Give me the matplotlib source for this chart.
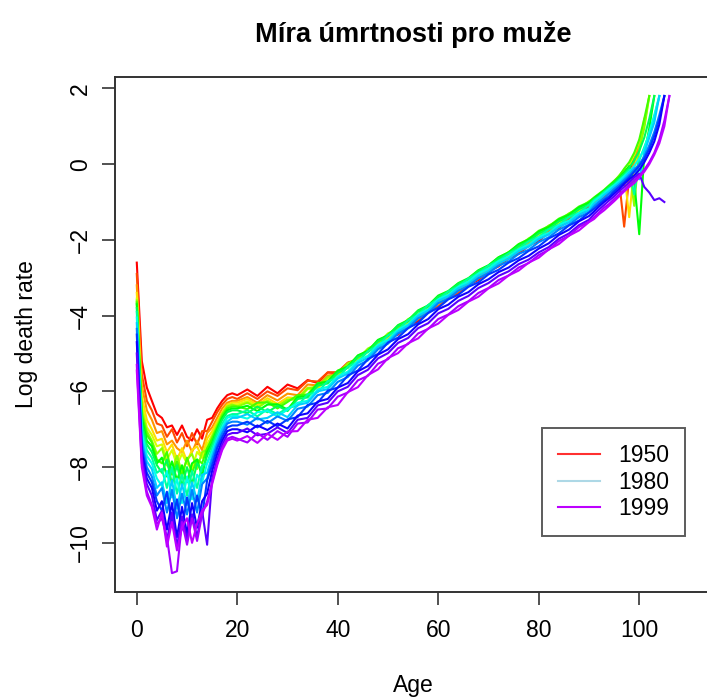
import numpy as np
import matplotlib
matplotlib.use('Agg')
import matplotlib.pyplot as plt
from matplotlib.colors import hsv_to_rgb
from matplotlib.lines import Line2D

nan = np.nan

# ages: single years in childhood, every 2 years for adults, single years at the top
ages = list(range(0, 21)) + list(range(22, 91, 2)) + list(range(91, 107))

years = [1950, 1953, 1956, 1959, 1962, 1965, 1968, 1971, 1974,
         1977, 1980, 1983, 1986, 1989, 1992, 1995, 1998, 1999]

m1950 = [-2.60, -5.20, -5.90, -6.25, -6.60, -6.70, -6.95, -6.90, -7.15, -6.90, -7.20, -7.30, -7.00, -7.25, -6.75, -6.70, -6.45, -6.25, -6.10, -6.05, -6.10,
         -5.95, -6.12, -5.88, -6.05, -5.82, -5.92, -5.70, -5.78, -5.50, -5.52, -5.25, -5.18, -4.92, -4.86, -4.60, -4.50, -4.25, -4.15, -3.90, -3.78,
         -3.55, -3.42, -3.19, -3.06, -2.83, -2.70, -2.49, -2.37, -2.15, -2.03, -1.80, -1.69, -1.46, -1.35, -1.12,
         -1.05, -0.95, -0.90, -0.75, -0.70, -0.50, -0.55, -0.20, 0.20, nan, nan, nan, nan, nan, nan, nan]
m1953 = [-2.90, -5.55, -6.25, -6.50, -6.85, -6.90, -7.20, -7.00, -7.35, -7.10, -7.45, -7.10, -7.40, -7.05, -7.05, -6.80, -6.55, -6.35, -6.20, -6.15, -6.20,
         -6.05, -6.20, -6.00, -6.12, -5.92, -5.97, -5.72, -5.74, -5.50, -5.49, -5.24, -5.15, -4.93, -4.83, -4.59, -4.47, -4.24, -4.10, -3.88, -3.74,
         -3.52, -3.39, -3.17, -3.03, -2.81, -2.67, -2.46, -2.32, -2.11, -1.97, -1.76, -1.63, -1.42, -1.29, -1.08,
         -1.02, -0.90, -0.85, -0.70, -0.62, -0.45, -1.65, -0.35, 0.05, 0.55, nan, nan, nan, nan, nan, nan]
m1956 = [-3.20, -5.85, -6.50, -6.75, -7.10, -7.05, -7.40, -7.30, -7.50, -7.60, -7.30, -7.60, -7.30, -7.55, -7.10, -6.95, -6.70, -6.45, -6.30, -6.25, -6.25,
         -6.15, -6.30, -6.10, -6.24, -6.06, -6.10, -5.82, -5.84, -5.58, -5.55, -5.27, -5.18, -4.92, -4.82, -4.56, -4.45, -4.20, -4.08, -3.84, -3.70,
         -3.48, -3.35, -3.13, -3.00, -2.78, -2.64, -2.43, -2.29, -2.08, -1.94, -1.73, -1.60, -1.40, -1.27, -1.06,
         -1.00, -0.88, -0.80, -0.70, -0.55, -0.42, -0.30, -0.55, 0.10, 0.45, 1.05, nan, nan, nan, nan, nan]
m1959 = [-3.40, -6.15, -6.75, -7.00, -7.30, -7.25, -7.60, -7.40, -7.80, -7.50, -7.85, -7.55, -7.45, -7.75, -7.25, -7.05, -6.80, -6.55, -6.35, -6.30, -6.30,
         -6.20, -6.36, -6.18, -6.33, -6.16, -6.18, -5.90, -5.90, -5.64, -5.60, -5.31, -5.21, -4.94, -4.83, -4.57, -4.44, -4.19, -4.06, -3.81, -3.68,
         -3.46, -3.32, -3.11, -2.97, -2.76, -2.62, -2.40, -2.26, -2.04, -1.90, -1.69, -1.57, -1.36, -1.24, -1.03,
         -0.95, -0.88, -0.76, -0.66, -0.52, -0.40, -0.20, -1.40, -0.10, 0.35, 1.20, nan, nan, nan, nan, nan]
m1962 = [-3.55, -6.35, -6.95, -7.15, -7.45, -7.40, -7.80, -7.55, -7.95, -7.65, -7.90, -8.05, -7.60, -7.75, -7.40, -7.15, -6.85, -6.60, -6.40, -6.35, -6.35,
         -6.26, -6.40, -6.24, -6.38, -6.22, -6.21, -5.94, -5.92, -5.66, -5.59, -5.31, -5.19, -4.92, -4.78, -4.52, -4.39, -4.14, -4.01, -3.77, -3.63,
         -3.41, -3.28, -3.06, -2.93, -2.72, -2.58, -2.36, -2.23, -2.01, -1.87, -1.66, -1.54, -1.33, -1.21, -1.00,
         -0.92, -0.85, -0.72, -0.62, -0.50, -0.35, -0.25, -0.05, 0.25, 0.60, 1.05, 1.80, nan, nan, nan, nan]
m1965 = [-3.60, -6.50, -7.05, -7.30, -7.65, -7.50, -7.95, -8.10, -7.70, -8.15, -7.80, -7.65, -8.05, -7.60, -7.55, -7.20, -6.90, -6.60, -6.40, -6.35, -6.40,
         -6.30, -6.44, -6.26, -6.40, -6.22, -6.20, -5.92, -5.88, -5.62, -5.54, -5.26, -5.14, -4.87, -4.73, -4.47, -4.34, -4.09, -3.97, -3.72, -3.59,
         -3.37, -3.24, -3.02, -2.89, -2.68, -2.54, -2.32, -2.18, -1.96, -1.82, -1.62, -1.50, -1.30, -1.18, -0.98,
         -0.90, -0.80, -0.70, -0.58, -0.46, -0.30, -0.15, -0.10, -1.10, 0.40, 0.95, 1.80, nan, nan, nan, nan]
m1968 = [-3.65, -6.60, -7.15, -7.35, -7.80, -7.90, -7.60, -8.20, -7.85, -8.25, -7.75, -8.15, -7.80, -7.90, -7.50, -7.25, -6.95, -6.65, -6.45, -6.40, -6.40,
         -6.47, -6.30, -6.29, -6.45, -6.28, -6.10, -6.08, -5.78, -5.74, -5.45, -5.34, -5.06, -4.94, -4.66, -4.53, -4.28, -4.15, -3.89, -3.76, -3.51,
         -3.38, -3.16, -3.03, -2.81, -2.68, -2.46, -2.33, -2.11, -1.98, -1.76, -1.64, -1.44, -1.32, -1.12, -1.00,
         -0.88, -0.78, -0.68, -0.56, -0.44, -0.32, -0.12, 0.05, 0.30, 0.65, 1.20, 1.80, nan, nan, nan, nan]
m1971 = [-3.70, -6.70, -7.30, -7.45, -7.90, -7.75, -8.25, -7.85, -8.35, -7.95, -8.40, -7.90, -7.80, -8.25, -7.60, -7.35, -7.00, -6.70, -6.50, -6.45, -6.45,
         -6.38, -6.52, -6.35, -6.34, -6.48, -6.15, -6.12, -5.80, -5.74, -5.46, -5.35, -5.05, -4.93, -4.64, -4.52, -4.25, -4.12, -3.86, -3.73, -3.47,
         -3.35, -3.14, -3.01, -2.80, -2.67, -2.46, -2.33, -2.12, -1.99, -1.78, -1.66, -1.46, -1.34, -1.14, -1.02,
         -0.90, -0.80, -0.70, -0.58, -0.48, -0.35, -0.22, -0.05, -0.45, -1.85, 0.25, 0.95, 1.80, nan, nan, nan]
m1974 = [-3.80, -6.85, -7.40, -7.60, -7.95, -8.15, -7.80, -8.45, -7.95, -8.50, -8.00, -8.45, -7.90, -8.10, -7.70, -7.40, -7.05, -6.75, -6.55, -6.50, -6.50,
         -6.58, -6.40, -6.55, -6.38, -6.52, -6.20, -6.16, -5.85, -5.79, -5.51, -5.38, -5.09, -4.96, -4.68, -4.54, -4.27, -4.14, -3.88, -3.75, -3.50,
         -3.37, -3.16, -3.03, -2.82, -2.69, -2.49, -2.36, -2.16, -2.03, -1.83, -1.71, -1.51, -1.39, -1.19, -1.07,
         -0.92, -0.84, -0.72, -0.60, -0.50, -0.38, -0.25, -0.10, 0.10, 0.35, 0.70, 1.20, 1.80, nan, nan, nan]
m1977 = [-3.90, -7.00, -7.55, -7.75, -8.15, -8.05, -8.55, -8.00, -8.70, -8.20, -8.75, -8.10, -8.55, -7.95, -7.90, -7.50, -7.15, -6.85, -6.65, -6.60, -6.60,
         -6.50, -6.66, -6.47, -6.60, -6.44, -6.38, -6.08, -6.02, -5.73, -5.65, -5.35, -5.22, -4.94, -4.80, -4.52, -4.38, -4.12, -3.98, -3.72, -3.58,
         -3.36, -3.23, -3.02, -2.89, -2.68, -2.56, -2.36, -2.24, -2.04, -1.92, -1.72, -1.60, -1.40, -1.28, -1.08,
         -0.95, -0.86, -0.74, -0.64, -0.55, -0.42, -0.30, -0.15, -0.80, 0.10, 0.45, 0.80, 1.25, 1.80, nan, nan]
m1980 = [-4.05, -7.10, -7.70, -7.90, -8.30, -8.50, -8.10, -8.80, -8.30, -8.95, -8.25, -8.85, -8.20, -8.40, -7.90, -7.60, -7.25, -6.95, -6.70, -6.65, -6.65,
         -6.72, -6.55, -6.52, -6.66, -6.48, -6.30, -6.25, -5.95, -5.88, -5.60, -5.48, -5.19, -5.06, -4.77, -4.64, -4.37, -4.23, -3.97, -3.83, -3.57,
         -3.45, -3.24, -3.10, -2.89, -2.76, -2.56, -2.44, -2.25, -2.13, -1.93, -1.81, -1.61, -1.49, -1.29, -1.17,
         -0.98, -0.88, -0.78, -0.66, -0.56, -0.45, -0.32, -0.20, -0.05, 0.15, 0.40, 0.85, 1.30, 1.80, nan, nan]
m1983 = [-4.20, -7.25, -7.85, -8.05, -8.55, -8.40, -8.95, -8.35, -9.10, -8.45, -9.00, -8.40, -8.90, -8.20, -8.15, -7.70, -7.30, -7.00, -6.80, -6.70, -6.70,
         -6.60, -6.74, -6.70, -6.55, -6.68, -6.36, -6.30, -6.00, -5.94, -5.66, -5.53, -5.25, -5.11, -4.83, -4.69, -4.42, -4.27, -4.01, -3.87, -3.61,
         -3.49, -3.28, -3.16, -2.95, -2.82, -2.62, -2.50, -2.30, -2.18, -1.98, -1.86, -1.66, -1.54, -1.34, -1.22,
         -1.05, -0.95, -0.82, -0.72, -0.60, -0.50, -0.38, -0.22, -0.10, -0.40, 0.30, 0.70, 1.10, 1.80, nan, nan]
m1986 = [-4.35, -7.35, -8.00, -8.25, -8.75, -8.55, -9.20, -8.60, -9.35, -8.70, -9.25, -8.60, -9.20, -8.45, -8.30, -7.80, -7.40, -7.10, -6.85, -6.80, -6.80,
         -6.88, -6.70, -6.84, -6.66, -6.78, -6.46, -6.40, -6.10, -6.04, -5.75, -5.62, -5.32, -5.18, -4.89, -4.74, -4.47, -4.33, -4.07, -3.93, -3.67,
         -3.55, -3.34, -3.22, -3.01, -2.88, -2.68, -2.57, -2.37, -2.26, -2.06, -1.93, -1.73, -1.60, -1.40, -1.27,
         -1.12, -1.00, -0.90, -0.78, -0.66, -0.55, -0.42, -0.30, -0.15, 0.00, 0.20, 0.50, 0.85, 1.30, 1.80, nan]
m1989 = [-4.50, -7.50, -8.15, -8.40, -8.90, -9.15, -8.65, -9.50, -8.85, -9.65, -8.80, -9.45, -8.75, -9.30, -8.35, -7.95, -7.50, -7.20, -6.95, -6.90, -6.90,
         -6.80, -6.95, -6.78, -6.92, -6.74, -6.68, -6.36, -6.30, -5.98, -5.90, -5.58, -5.45, -5.15, -5.01, -4.71, -4.58, -4.33, -4.19, -3.93, -3.79,
         -3.57, -3.45, -3.24, -3.12, -2.91, -2.79, -2.60, -2.48, -2.29, -2.17, -1.96, -1.83, -1.62, -1.49, -1.28,
         -1.18, -1.06, -0.95, -0.85, -0.72, -0.60, -0.48, -0.35, -0.20, -0.05, 0.15, 0.40, 0.75, 1.20, 1.80, nan]
m1992 = [-4.70, -7.60, -8.30, -8.55, -9.15, -8.90, -9.65, -8.95, -9.85, -9.05, -9.75, -8.95, -9.60, -8.90, -8.70, -8.10, -7.65, -7.30, -7.05, -7.00, -7.00,
         -7.08, -6.90, -7.02, -6.85, -6.98, -6.64, -6.58, -6.27, -6.20, -5.90, -5.78, -5.47, -5.33, -5.03, -4.89, -4.62, -4.49, -4.23, -4.09, -3.83,
         -3.71, -3.50, -3.38, -3.17, -3.04, -2.85, -2.73, -2.54, -2.42, -2.23, -2.09, -1.87, -1.73, -1.51, -1.37,
         -1.25, -1.12, -1.00, -0.90, -0.78, -0.66, -0.52, -0.40, -0.30, -0.15, 0.05, 0.30, 0.60, 1.05, 1.80, nan]
m1995 = [-5.00, -7.75, -8.45, -8.75, -9.40, -9.15, -9.95, -9.20, -10.10, -9.30, -9.90, -9.25, -9.85, -9.15, -10.05, -8.30, -7.80, -7.40, -7.15, -7.10, -7.10,
         -6.98, -7.16, -7.12, -6.95, -7.10, -6.75, -6.70, -6.37, -6.30, -6.00, -5.88, -5.57, -5.43, -5.13, -4.99, -4.72, -4.59, -4.33, -4.20, -3.94,
         -3.82, -3.61, -3.48, -3.27, -3.14, -2.95, -2.83, -2.64, -2.52, -2.33, -2.19, -1.97, -1.83, -1.61, -1.47,
         -1.32, -1.20, -1.08, -0.96, -0.85, -0.72, -0.60, -0.48, -0.35, -0.25, -0.60, -0.75, -0.95, -0.90, -1.00, nan]
m1998 = [-5.30, -7.90, -8.65, -9.00, -9.50, -9.35, -9.85, -10.80, -10.75, -9.45, -10.05, -9.35, -9.95, -9.25, -8.90, -8.40, -7.90, -7.50, -7.25, -7.20, -7.25,
         -7.35, -7.10, -7.28, -7.05, -7.20, -6.85, -6.82, -6.48, -6.45, -6.14, -6.03, -5.71, -5.59, -5.27, -5.15, -4.86, -4.75, -4.47, -4.35, -4.09,
         -3.97, -3.75, -3.62, -3.40, -3.27, -3.06, -2.94, -2.73, -2.61, -2.40, -2.26, -2.03, -1.89, -1.66, -1.52,
         -1.40, -1.28, -1.15, -1.05, -0.92, -0.80, -0.68, -0.55, -0.42, -0.30, -0.15, 0.05, 0.30, 0.65, 1.15, 1.80]
m1999 = [-5.45, -8.00, -8.75, -9.05, -9.65, -9.20, -10.10, -9.45, -10.20, -9.60, -9.35, -10.00, -9.50, -9.15, -9.00, -8.45, -7.95, -7.55, -7.30, -7.25, -7.30,
         -7.18, -7.36, -7.12, -7.28, -7.06, -7.05, -6.75, -6.70, -6.42, -6.36, -6.02, -5.89, -5.57, -5.42, -5.12, -4.99, -4.73, -4.60, -4.34, -4.21,
         -3.98, -3.85, -3.63, -3.50, -3.28, -3.15, -2.94, -2.81, -2.60, -2.47, -2.25, -2.11, -1.89, -1.75, -1.53,
         -1.45, -1.32, -1.22, -1.10, -0.98, -0.85, -0.72, -0.60, -0.50, -0.35, -0.20, 0.00, 0.25, 0.55, 1.00, 1.80]

rates = [m1950, m1953, m1956, m1959, m1962, m1965, m1968, m1971, m1974,
         m1977, m1980, m1983, m1986, m1989, m1992, m1995, m1998, m1999]

legend_years = ['1950', '1980', '1999']

plt.rcParams['font.family'] = ['Liberation Sans', 'DejaVu Sans']
fs = 16.5

fig = plt.figure(figsize=(7.07, 6.99), dpi=100)
ax = fig.add_axes([0.1622, 0.1535, 0.8443, 0.7368])

def rainbow(year):
    return hsv_to_rgb(((year - 1950) / 62.0, 1.0, 1.0))

for yr, r in zip(years, rates):
    ax.plot(ages, r, color=rainbow(yr), lw=1.5)

ax.set_xlim(-4.4, 114.4)
ax.set_ylim(-11.29, 2.31)
ax.set_xticks([0, 20, 40, 60, 80, 100])
ax.set_yticks([2, 0, -2, -4, -6, -8, -10])
for s in ax.spines.values():
    s.set_color('#333333')
    s.set_linewidth(1.4)
ax.tick_params(length=9.5, width=1.2, color='#333333', labelsize=fs)
ax.tick_params(axis='x', pad=10)
ax.tick_params(axis='y', pad=7)
for lab in ax.get_yticklabels():
    lab.set_rotation(90)
    lab.set_va('center')

ax.set_title('Míra úmrtnosti pro muže', fontsize=19.5, fontweight='bold', pad=25)
ax.set_xlabel('Age', fontsize=fs)
ax.xaxis.set_label_coords(0.5, -0.16)
ax.set_ylabel('Log death rate', fontsize=fs, labelpad=22)

handles = [Line2D([], [], color='#ff3030', lw=1.5),
           Line2D([], [], color='#add8e6', lw=1.5),
           Line2D([], [], color=rainbow(1999), lw=1.5)]
leg = ax.legend(handles, legend_years, loc='upper left', bbox_to_anchor=(0.7164, 0.3173),
                borderaxespad=0, fontsize=fs, frameon=True, fancybox=False,
                handlelength=1.8, handletextpad=0.8, borderpad=0.7, labelspacing=0.15)
leg.get_frame().set_edgecolor('#333333')
leg.get_frame().set_linewidth(1.4)

fig.savefig('out.png', dpi=100)
